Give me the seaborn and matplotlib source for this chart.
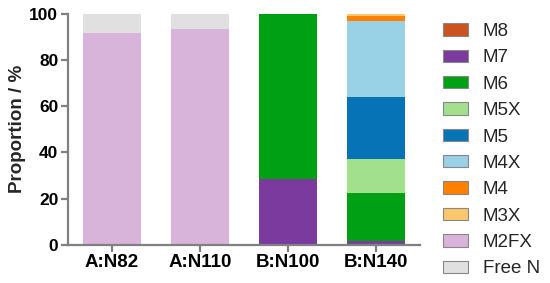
import matplotlib
matplotlib.use('Agg')
import matplotlib.pyplot as plt
import seaborn as sns
import numpy as np
from matplotlib.patches import Patch

# Samples and component proportions (%), stacked bottom -> top
samples = ['A:N82', 'A:N110', 'B:N100', 'B:N140']
components = ['M8', 'M7', 'M6', 'M5X', 'M5', 'M4X', 'M4', 'M3X', 'M2FX', 'Free N']

m8 = [0, 0, 0, 0]
m7 = [0, 0, 28.3, 1.8]
m6 = [0, 0, 71.7, 20.5]
m5x = [0, 0, 0, 14.7]
m5 = [0, 0, 0, 27.2]
m4x = [0, 0, 0, 32.9]
m4 = [0, 0, 0, 1.9]
m3x = [0, 0, 0, 1.0]
m2fx = [91.6, 93.6, 0, 0]
free_n = [8.4, 6.4, 0, 0]

series = [m8, m7, m6, m5x, m5, m4x, m4, m3x, m2fx, free_n]
colors = ['#C9541E', '#7B3A9E', '#00A014', '#A2E08E', '#0673B6',
          '#99D1E6', '#FF8000', '#FFC76E', '#D8B3DA', '#E0E0E0']

sns.set_style('ticks')
plt.rcParams['font.family'] = ['Liberation Sans', 'DejaVu Sans']

fig = plt.figure(figsize=(5.5, 2.83), dpi=100)
ax = fig.add_axes([68 / 550, 1 - 244.7 / 283, (420 - 68) / 550, (244.7 - 14) / 283])

bottom = np.zeros(len(samples))
for name, vals, col in zip(components, series, colors):
    sns.barplot(x=samples, y=vals, bottom=bottom, color=col, width=0.67,
                saturation=1, linewidth=0, ax=ax)
    bottom += np.array(vals)

ax.set_xlim(-0.5, 3.5)
ax.set_ylim(0, 100)
ax.set_yticks([0, 20, 40, 60, 80, 100])
ax.set_ylabel('Proportion / %', fontsize=13.5, fontweight='bold', labelpad=2)
ax.set_xlabel('')

for s in ['top', 'right']:
    ax.spines[s].set_visible(False)
for s in ['left', 'bottom']:
    ax.spines[s].set_color('#808080')
    ax.spines[s].set_linewidth(1.6)
ax.tick_params(axis='both', colors='#808080', width=1.6, length=5, pad=2,
               labelcolor='black')
ax.tick_params(axis='x', labelsize=13.5)
ax.tick_params(axis='y', labelsize=12.5)
for lab in ax.get_xticklabels() + ax.get_yticklabels():
    lab.set_fontweight('bold')

handles = [Patch(facecolor=c, edgecolor='#888888', linewidth=0.8, label=n)
           for n, c in zip(components, colors)]
fig.legend(handles=handles, loc='upper left', bbox_to_anchor=(443 / 550, 1 - 23 / 283),
           frameon=False, fontsize=13.5, handlelength=1.33, handleheight=0.64,
           labelspacing=0.5, handletextpad=0.8, borderaxespad=0, borderpad=0)

fig.savefig('out.png', dpi=100)
